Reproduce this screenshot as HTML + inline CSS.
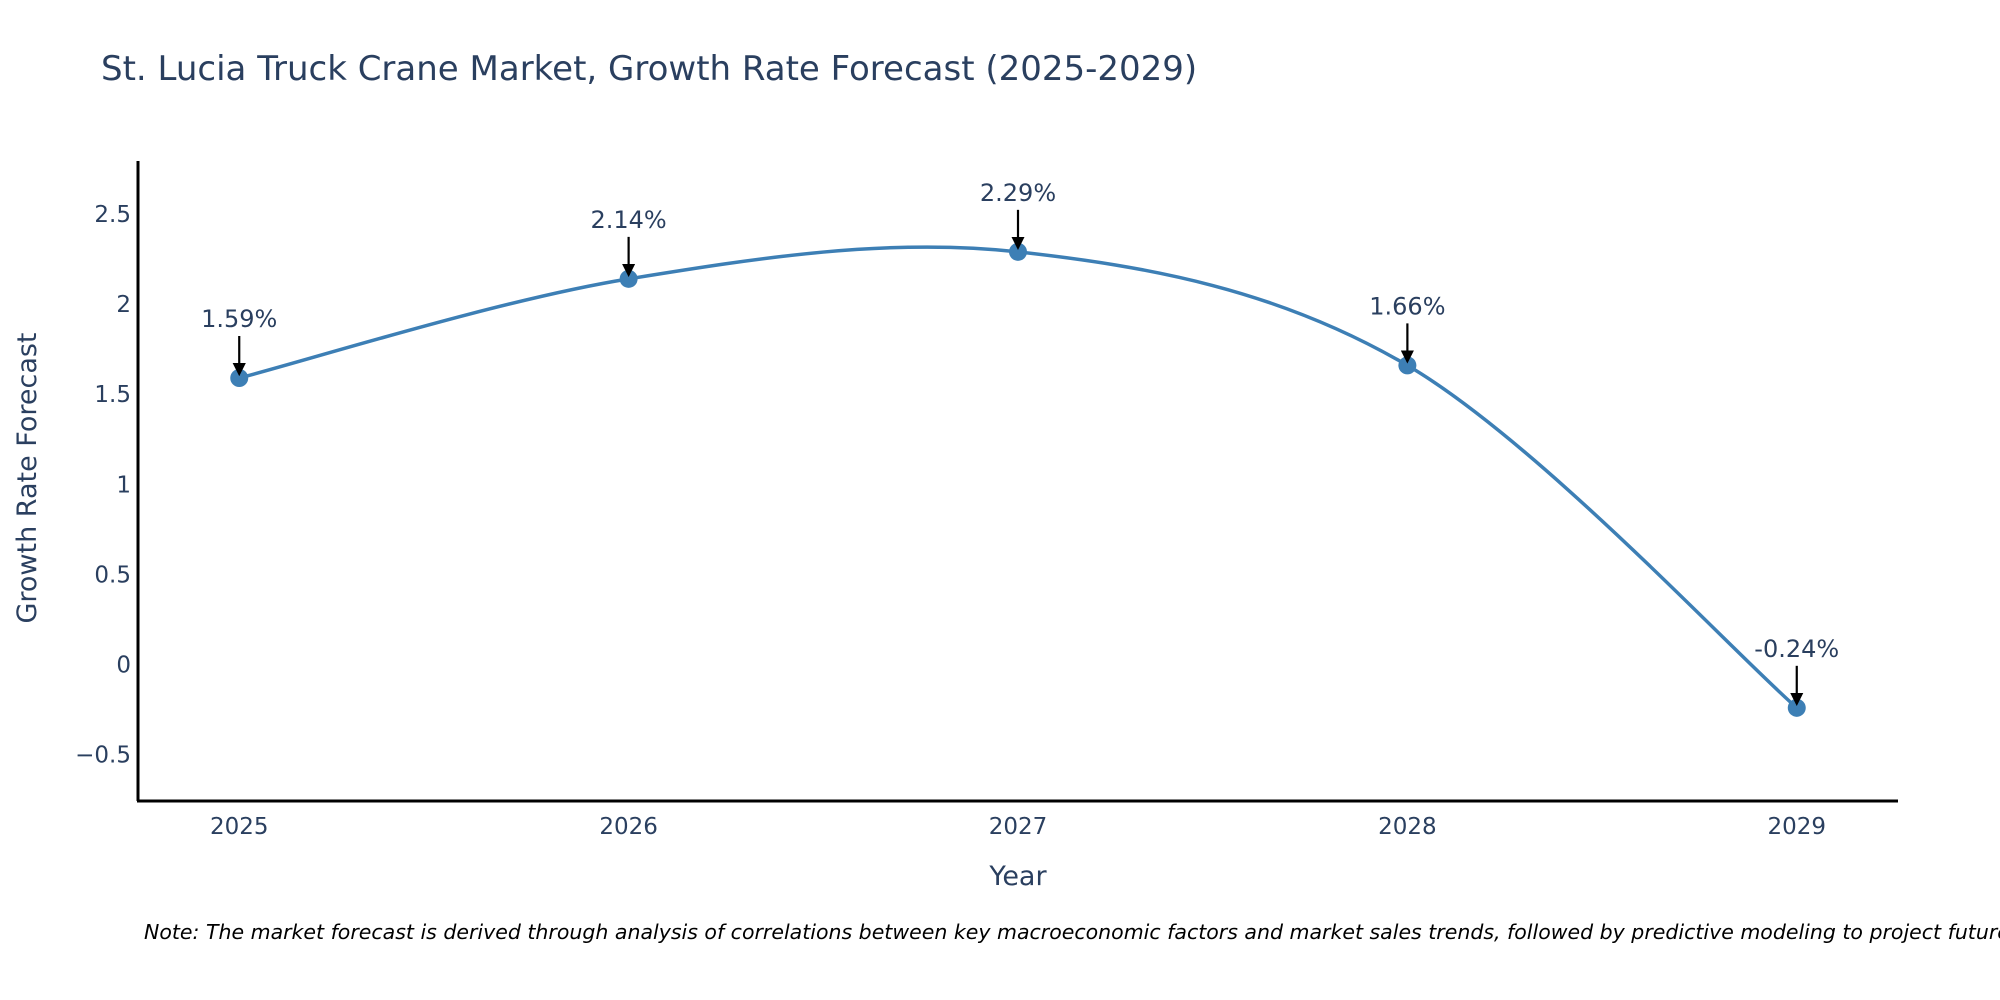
<!DOCTYPE html>
<html><head><meta charset="utf-8"><style>
body{margin:0;background:#fff;}
svg{display:block;font-family:"DejaVu Sans","Liberation Sans",sans-serif;}
</style></head><body>
<svg id="chart" width="2000" height="1000">
<text x="101" y="80" font-size="34" fill="#2a3f5f">St. Lucia Truck Crane Market, Growth Rate Forecast (2025-2029)</text>
<g id="yticks"></g>
<g id="xticks"></g>
<path id="line" fill="none" stroke="#3d7fb5" stroke-width="3.5"></path>
<g id="points"></g>
<g id="annots"></g>
<line x1="138" y1="161" x2="138" y2="801" stroke="#000" stroke-width="3"/>
<line x1="137" y1="801" x2="1898" y2="801" stroke="#000" stroke-width="3"/>
<text x="1018" y="885" font-size="27" fill="#2a3f5f" text-anchor="middle">Year</text>
<text transform="translate(36,478) rotate(-90)" font-size="27" fill="#2a3f5f" text-anchor="middle">Growth Rate Forecast</text>
<text x="144" y="939" font-size="20.5" font-style="italic" fill="#000">Note: The market forecast is derived through analysis of correlations between key macroeconomic factors and market sales trends, followed by predictive modeling to project future sales.</text>
<defs><marker id="ah" markerWidth="6" markerHeight="6" refX="5" refY="3" orient="auto" markerUnits="strokeWidth"><path d="M0,0 L6,3 L0,6 z" fill="#000"/></marker></defs>
</svg>
<script>
const years = [2025, 2026, 2027, 2028, 2029];
const values = [1.59, 2.14, 2.29, 1.66, -0.24];
const labels = ["1.59%", "2.14%", "2.29%", "1.66%", "-0.24%"];
const yTicks = [-0.5, 0, 0.5, 1, 1.5, 2, 2.5];
const yTickLabels = ["\u22120.5", "0", "0.5", "1", "1.5", "2", "2.5"];

const X0=138, X1=1898, Y0=161, Y1=801;
const xMin=2024.74, xMax=2029.26, yMin=-0.757, yMax=2.794;
const sx = v => X0 + (v - xMin) / (xMax - xMin) * (X1 - X0);
const sy = v => Y1 - (v - yMin) / (yMax - yMin) * (Y1 - Y0);
const NS = "http://www.w3.org/2000/svg";
function mk(tag, attrs, parent){const e=document.createElementNS(NS,tag);for(const k in attrs)e.setAttribute(k,attrs[k]);parent.appendChild(e);return e;}

const yg = document.getElementById('yticks');
yTicks.forEach((t,i)=>{
  const e = mk('text',{x:131,y:sy(t)+8,'font-size':23,fill:'#2a3f5f','text-anchor':'end'},yg);
  
  
  e.textContent = yTickLabels[i];
});
const xg = document.getElementById('xticks');
years.forEach(y=>{
  const e = mk('text',{x:sx(y),y:834,'font-size':23,fill:'#2a3f5f','text-anchor':'middle'},xg);
  
  
  e.textContent = String(y);
});

const pts = years.map((y,i)=>[sx(y), sy(values[i])]);
const n = pts.length;
const tan = pts.map((p,i)=>{
  if(i===0) return [(pts[1][0]-p[0])/2,(pts[1][1]-p[1])/2];
  if(i===n-1) return [(p[0]-pts[n-2][0])/2,(p[1]-pts[n-2][1])/2];
  return [(pts[i+1][0]-pts[i-1][0])/2,(pts[i+1][1]-pts[i-1][1])/2];
});
let d = `M${pts[0][0]},${pts[0][1]}`;
for(let i=0;i<n-1;i++){
  const p1=pts[i], p2=pts[i+1];
  const c1=[p1[0]+tan[i][0]/3, p1[1]+tan[i][1]/3];
  const c2=[p2[0]-tan[i+1][0]/3, p2[1]-tan[i+1][1]/3];
  d += ` C${c1[0]},${c1[1]} ${c2[0]},${c2[1]} ${p2[0]},${p2[1]}`;
}
document.getElementById('line').setAttribute('d', d);

const pg = document.getElementById('points');
const ag = document.getElementById('annots');
pts.forEach((p,i)=>{
  const c = mk('circle',{cx:p[0],cy:p[1],r:9,fill:'#3d7fb5'},pg);
  
  
  const l = mk('line',{x1:p[0],y1:p[1]-42,x2:p[0],y2:p[1]-4,stroke:'#000','stroke-width':2.2,'marker-end':'url(#ah)'},ag);
  
  
  const t = mk('text',{x:p[0],y:p[1]-51,'font-size':24,fill:'#2a3f5f','text-anchor':'middle'},ag);
  
  
  t.textContent = labels[i];
});
</script>
</body></html>
